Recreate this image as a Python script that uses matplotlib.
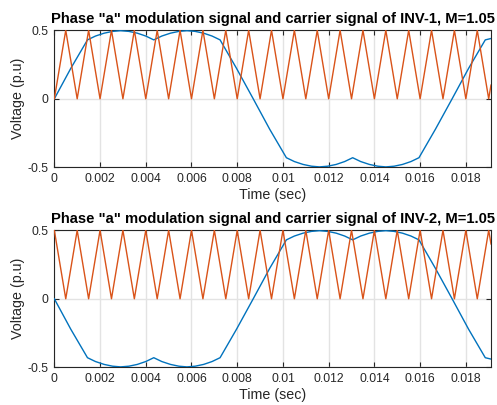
import matplotlib
matplotlib.use("Agg")
import matplotlib.pyplot as plt

plt.rcParams['font.family'] = ['Liberation Sans', 'DejaVu Sans']

# Modulation signal (INV-1)
mod_t = [0, 0.00072, 0.00145, 0.0018, 0.00218, 0.00255, 0.0029, 0.00326, 0.00363,
         0.004, 0.00435, 0.0047, 0.00508, 0.00545, 0.0058, 0.00616, 0.00653, 0.0069,
         0.00725, 0.00797, 0.0087, 0.00942, 0.01015, 0.0105, 0.01088, 0.01125, 0.0116,
         0.01196, 0.01233, 0.0127, 0.01305, 0.0134, 0.01378, 0.01415, 0.0145, 0.01486,
         0.01523, 0.0156, 0.01595, 0.01667, 0.0174, 0.01812, 0.01885, 0.0191]
mod_inv1 = [0, 0.222, 0.43, 0.458, 0.479, 0.492, 0.497, 0.492, 0.479,
            0.458, 0.43, 0.458, 0.479, 0.492, 0.497, 0.492, 0.479, 0.458,
            0.43, 0.222, 0, -0.222, -0.43, -0.458, -0.479, -0.492, -0.497,
            -0.492, -0.479, -0.458, -0.43, -0.458, -0.479, -0.492, -0.497, -0.492,
            -0.479, -0.458, -0.43, -0.222, 0, 0.222, 0.43, 0.44]
mod_inv2 = [0, -0.222, -0.43, -0.458, -0.479, -0.492, -0.497, -0.492, -0.479,
            -0.458, -0.43, -0.458, -0.479, -0.492, -0.497, -0.492, -0.479, -0.458,
            -0.43, -0.222, 0, 0.222, 0.43, 0.458, 0.479, 0.492, 0.497,
            0.492, 0.479, 0.458, 0.43, 0.458, 0.479, 0.492, 0.497, 0.492,
            0.479, 0.458, 0.43, 0.222, 0, -0.222, -0.43, -0.44]

# Carrier vertices
car_t = [0, 0.0005, 0.001, 0.0015, 0.002, 0.0025, 0.003, 0.0035, 0.004, 0.0045,
         0.005, 0.0055, 0.006, 0.0065, 0.007, 0.0075, 0.008, 0.0085, 0.009, 0.0095,
         0.010, 0.0105, 0.011, 0.0115, 0.012, 0.0125, 0.013, 0.0135, 0.014, 0.0145,
         0.015, 0.0155, 0.016, 0.0165, 0.017, 0.0175, 0.018, 0.0185, 0.019, 0.0191]
car_inv1 = [0, 0.5, 0, 0.5, 0, 0.5, 0, 0.5, 0, 0.5,
            0, 0.5, 0, 0.5, 0, 0.5, 0, 0.5, 0, 0.5,
            0, 0.5, 0, 0.5, 0, 0.5, 0, 0.5, 0, 0.5,
            0, 0.5, 0, 0.5, 0, 0.5, 0, 0.5, 0, 0.1]
car_inv2 = [0.5, 0, 0.5, 0, 0.5, 0, 0.5, 0, 0.5, 0,
            0.5, 0, 0.5, 0, 0.5, 0, 0.5, 0, 0.5, 0,
            0.5, 0, 0.5, 0, 0.5, 0, 0.5, 0, 0.5, 0,
            0.5, 0, 0.5, 0, 0.5, 0, 0.5, 0, 0.5, 0.4]

titles = ['Phase "a" modulation signal and carrier signal of INV-1, M=1.05',
          'Phase "a" modulation signal and carrier signal of INV-2, M=1.05']
xticks = [0, 0.002, 0.004, 0.006, 0.008, 0.01, 0.012, 0.014, 0.016, 0.018]
xticklabels = ['0', '0.002', '0.004', '0.006', '0.008', '0.01', '0.012', '0.014', '0.016', '0.018']
yticks = [-0.5, 0, 0.5]
yticklabels = ['-0.5', '0', '0.5']

BLUE = '#0072BD'
ORANGE = '#D95319'
DARK = '#262626'

fig = plt.figure(figsize=(4.97, 4.05), dpi=100)
ax1 = fig.add_axes([0.1093, 0.5869, 0.8786, 0.3383])
ax2 = fig.add_axes([0.1093, 0.0931, 0.8786, 0.3383])

for ax, mod, car, title in [(ax1, mod_inv1, car_inv1, titles[0]),
                            (ax2, mod_inv2, car_inv2, titles[1])]:
    ax.plot(mod_t, mod, color=BLUE, lw=1.0, zorder=3)
    ax.plot(car_t, car, color=ORANGE, lw=1.0, zorder=3)
    ax.set_xlim(0, 0.0191)
    ax.set_ylim(-0.5, 0.5)
    ax.set_xticks(xticks)
    ax.set_xticklabels(xticklabels)
    ax.set_yticks(yticks)
    ax.set_yticklabels(yticklabels)
    ax.grid(True, color='#e3e3e3', lw=1.0, zorder=0)
    ax.set_axisbelow(True)
    ax.tick_params(direction='in', top=True, right=True, length=3.5, width=0.8,
                   colors=DARK, labelsize=8.7, pad=4)
    for s in ax.spines.values():
        s.set_color(DARK)
        s.set_linewidth(0.8)
    ax.set_title(title, fontsize=10.6, fontweight='bold', color='black', pad=5)
    ax.set_xlabel('Time (sec)', fontsize=10.3, color=DARK, labelpad=2)
    ax.set_ylabel('Voltage (p.u)', fontsize=10.3, color=DARK, labelpad=2)

fig.savefig('out.png', dpi=100)
